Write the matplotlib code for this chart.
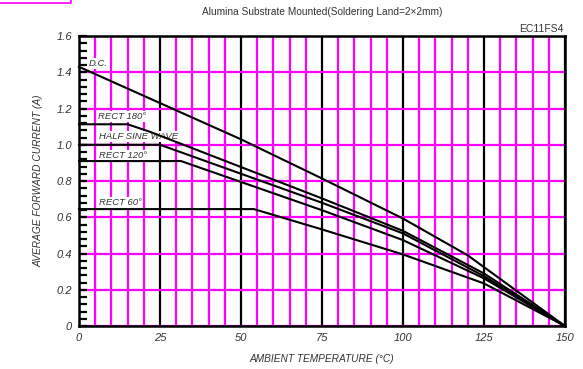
import matplotlib
matplotlib.use("Agg")
import matplotlib.pyplot as plt
from matplotlib.patches import Rectangle
import numpy as np

# curve data (ambient temp in C, current in A)
dc_t = [0, 25, 50, 75, 100, 120, 150]
dc_i = [1.43, 1.23, 1.03, 0.814, 0.593, 0.39, 0]

r180_t = [0, 15, 22, 75, 100, 125, 150]
r180_i = [1.113, 1.113, 1.071, 0.704, 0.525, 0.29, 0]

hs_t = [0, 25, 75, 100, 125, 150]
hs_i = [1.0, 1.0, 0.68, 0.511, 0.275, 0]

r120_t = [0, 31.5, 75, 100, 125, 150]
r120_i = [0.91, 0.91, 0.639, 0.474, 0.263, 0]

r60_t = [0, 54, 75, 100, 125, 150]
r60_i = [0.645, 0.645, 0.533, 0.395, 0.235, 0]

curve_labels = ["D.C.", "RECT 180°", "HALF SINE WAVE", "RECT 120°", "RECT 60°"]
label_x = [2.9, 6.0, 6.3, 6.3, 6.3]
label_y = [1.45, 1.157, 1.047, 0.942, 0.683]

xticks = [0, 25, 50, 75, 100, 125, 150]
yticks = [0, 0.2, 0.4, 0.6, 0.8, 1.0, 1.2, 1.4, 1.6]
ytick_labels = ["0", "0.2", "0.4", "0.6", "0.8", "1.0", "1.2", "1.4", "1.6"]

plt.rcParams['font.family'] = ['Liberation Sans', 'DejaVu Sans']
txt = '#333333'
mag = '#ff00ff'

fig = plt.figure(figsize=(5.83, 3.69), dpi=100)
ax = fig.add_axes([0.1355, 0.1165, 0.969 - 0.1355, 0.9024 - 0.1165])

ax.set_xlim(0, 150)
ax.set_ylim(0, 1.6)

# grid: magenta every 5C and 0.2A, black every 25C
ax.set_xticks(xticks)
ax.set_xticks(np.arange(0, 151, 5), minor=True)
ax.set_yticks(yticks)
ax.set_yticklabels(ytick_labels)
ax.set_yticks(np.arange(0, 1.601, 0.04), minor=True)
ax.grid(which='major', axis='x', color='black', linewidth=1.6, zorder=1)
ax.grid(which='minor', axis='x', color=mag, linewidth=1.6, zorder=0)
ax.grid(which='major', axis='y', color=mag, linewidth=1.6, zorder=0)
ax.set_axisbelow(True)

ax.tick_params(axis='x', which='both', length=0, pad=5, labelsize=8, labelcolor=txt)
ax.tick_params(axis='y', which='both', direction='in', length=6, width=1.6,
               pad=5, labelsize=8, labelcolor=txt)
for lab in ax.get_xticklabels() + ax.get_yticklabels():
    lab.set_fontstyle('italic')

for s in ax.spines.values():
    s.set_linewidth(1.8)
    s.set_color('black')

for t, i in [(dc_t, dc_i), (r180_t, r180_i), (hs_t, hs_i), (r120_t, r120_i), (r60_t, r60_i)]:
    ax.plot(t, i, color='black', linewidth=1.5, zorder=3, clip_on=False)

for name, x, y in zip(curve_labels, label_x, label_y):
    ax.text(x, y, name, fontsize=6.8, style='italic', color=txt, zorder=2,
            va='center', ha='left',
            bbox=dict(facecolor='white', edgecolor='none', pad=0.6))

ax.set_xlabel("AMBIENT TEMPERATURE (°C)", fontsize=7.3, style='italic',
              color=txt, labelpad=8)
ax.set_ylabel("AVERAGE FORWARD CURRENT (A)", fontsize=7.3, style='italic',
              color=txt, labelpad=9)

fig.text(0.552, 0.967, "Alumina Substrate Mounted(Soldering Land=2×2mm)",
         fontsize=7.3, color=txt, ha='center', va='center')
fig.text(0.966, 0.921, "EC11FS4", fontsize=7.5, color=txt, ha='right', va='center')

# magenta frame peeking in at the top-left corner
fig.patches.append(Rectangle((-0.1, 0.9925), 0.2215, 0.1, transform=fig.transFigure,
                             fill=False, edgecolor=mag, linewidth=1.2))

fig.savefig("out.png", dpi=100)
